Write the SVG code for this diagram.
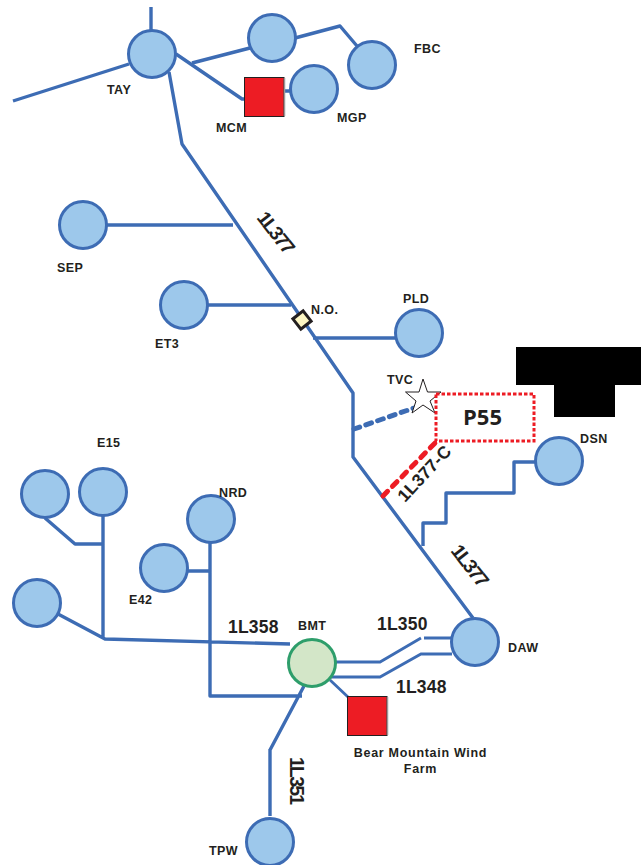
<svg xmlns="http://www.w3.org/2000/svg" width="641" height="865" viewBox="0 0 641 865">
<style>
.w{fill:none;stroke:#3d6cb4;stroke-width:3.4;stroke-linejoin:round}
.t{fill:none;stroke:#3d6cb4;stroke-width:2.8}
.n{fill:#9dc8eb;stroke:#3d6cb4;stroke-width:3}
.b{fill:#231f20;font-family:"Liberation Sans",Arial,sans-serif;font-weight:bold;font-size:12.5px;letter-spacing:.4px}
.l{fill:#231f20;font-family:"Liberation Sans",Arial,sans-serif;font-weight:bold;font-size:17.5px;letter-spacing:.2px}
.m{fill:#231f20;font-family:"Liberation Sans",Arial,sans-serif;font-weight:bold;font-size:19.500px;letter-spacing:-1.800px}
.s{fill:#ed1c24;stroke:#231f20;stroke-width:1}
.g{fill:none;stroke:#9a9a9a;stroke-width:1.500}
</style>
<rect width="641" height="865" fill="#fff"/>
<g id="connectors">
<path class="w" d="M151 7V30M129 64L13 101M169 72L182 144L353 393V457L473 618"/>
<path class="w" d="M176 54L242 99H245M192 63L250 48M295 38L340 26L357 46M284 91H291"/>
<path class="w" d="M107 225H233M207 305H291M313 338H396"/>
<path class="w" d="M423 546V523H446V493H514V462H536"/>
<path class="w" d="M45 518L75 544H103M103 515V639M58 614L105 639L290 644M164 571H209M210 541V696H302M270 750L304 686M270 749V816"/>
<path class="t" d="M335 662H380L421 638M424 638H452M331 677H380L421 654H452M330 680L348 697"/>
<path fill="none" stroke="#3d6cb4" stroke-width="5" stroke-linecap="round" stroke-dasharray="6 6.500" d="M354 429L414 408"/>
<path fill="none" stroke="#ed1c24" stroke-width="5" stroke-linecap="round" stroke-dasharray="6.500 7" d="M383 496L436 442"/>
</g>
<g id="TAY"><circle class="n" cx="152" cy="54" r="23.500"/><text class="b" x="107" y="94">TAY</text></g>
<g id="N1"><circle class="n" cx="272" cy="38" r="23.500"/></g>
<g id="FBC"><circle class="n" cx="372" cy="65" r="23.500"/><text class="b" x="414" y="53">FBC</text></g>
<g id="MGP"><circle class="n" cx="314" cy="89" r="23.500"/><text class="b" x="337" y="122">MGP</text></g>
<g id="MCM"><rect class="s" x="244.500" y="77.500" width="39.500" height="39"/><path class="g" d="M284.500 78V116"/><text class="b" x="216" y="132">MCM</text></g>
<g id="SEP"><circle class="n" cx="83" cy="225" r="23.500"/><text class="b" x="57" y="272">SEP</text></g>
<g id="ET3"><circle class="n" cx="184" cy="305" r="23.500"/><text class="b" x="155" y="348">ET3</text></g>
<g id="PLD"><circle class="n" cx="419" cy="333" r="23.500"/><text class="b" x="403" y="303">PLD</text></g>
<g id="NO"><rect x="-6.500" y="-6.500" width="13" height="13" transform="translate(302 320) rotate(-38)" fill="#fdf6c3" stroke="#231f20" stroke-width="3"/><text class="b" x="311" y="314">N.O.</text></g>
<g id="TVC"><polygon points="423,379 427.500,392 441,392 430,401 435,413 423,405 412,413 416,401 405.500,392 419,392" fill="#fff" stroke="#231f20" stroke-width="1"/><text class="b" x="387" y="384">TVC</text></g>
<g id="P55"><rect x="436" y="394" width="98" height="47" fill="#fff" stroke="#ed1c24" stroke-width="3" stroke-dasharray="3.500 2"/><text x="463" y="425" fill="#231f20" font-family="'Open Sans','Liberation Sans',sans-serif" font-weight="bold" font-size="22">P55</text></g>
<g id="mask"><path fill="#000" d="M516 347H641V385H615V417H554V385H516Z"/></g>
<g id="DSN"><circle class="n" cx="559" cy="461" r="23.500"/><text class="b" x="580" y="443">DSN</text></g>
<g id="E15"><circle class="n" cx="45" cy="494" r="23.500"/><circle class="n" cx="103" cy="492" r="23.500"/><text class="b" x="97" y="447">E15</text></g>
<g id="NRD"><circle class="n" cx="211" cy="519" r="23.500"/><text class="b" x="219" y="497">NRD</text></g>
<g id="E42"><circle class="n" cx="164" cy="568" r="23.500"/><text class="b" x="129" y="604">E42</text></g>
<g id="N2"><circle class="n" cx="37" cy="603" r="23.500"/></g>
<g id="DAW"><circle class="n" cx="475" cy="642" r="23.500"/><text class="b" x="508" y="652">DAW</text></g>
<g id="BMT"><circle cx="312" cy="663" r="23.500" fill="#d3e6c8" stroke="#2e9e6b" stroke-width="3"/><text class="b" x="298" y="630">BMT</text></g>
<g id="Wind"><rect class="s" x="347.500" y="696.500" width="39.500" height="39"/><path class="g" d="M387.500 697V735"/><text class="b" text-anchor="middle" style="letter-spacing:.7px"><tspan x="420.500" y="757">Bear Mountain Wind</tspan><tspan x="420.500" y="773">Farm</tspan></text></g>
<g id="TPW"><circle class="n" cx="270" cy="842" r="23.500"/><text class="b" x="209" y="855">TPW</text></g>
<g id="labels">
<text class="m" transform="translate(256 218) rotate(52)">1L377</text>
<text class="m" transform="translate(450 551) rotate(52)">1L377</text>
<text class="l" transform="translate(405 503) rotate(-47)">1L377-C</text>
<text class="l" x="228" y="633">1L358</text>
<text class="l" x="377" y="630">1L350</text>
<text class="l" x="396" y="693">1L348</text>
<text class="m" transform="translate(290 757) rotate(90)">1L351</text>
</g>
</svg>
